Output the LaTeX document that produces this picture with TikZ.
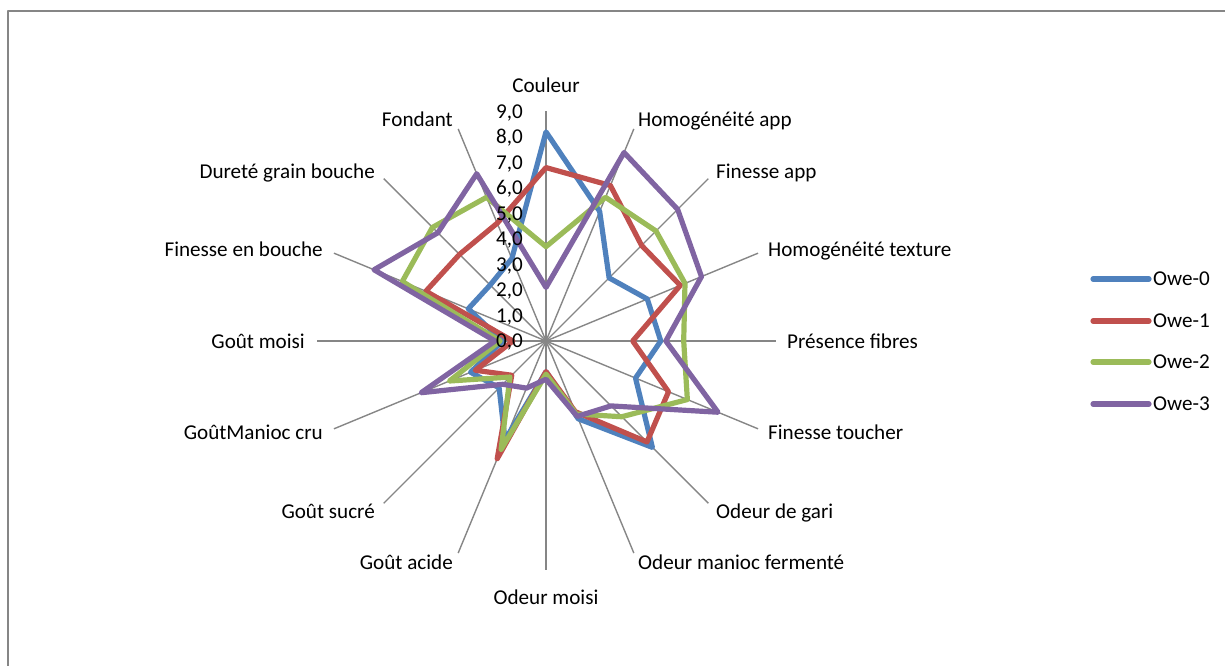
\documentclass[tikz,border=0pt]{standalone}
\usepackage{fontspec}
\setmainfont{Carlito}
\usepackage{tikz}
\usetikzlibrary{positioning}

\definecolor{owezero}{RGB}{79,129,189}
\definecolor{oweone}{RGB}{192,80,77}
\definecolor{owetwo}{RGB}{155,187,89}
\definecolor{owethree}{RGB}{128,100,162}
\definecolor{axisgray}{RGB}{134,134,134}

\tikzset{
  spoke/.style={draw=axisgray,line width=1.4bp},
  serie/.style={line width=5.2bp,line join=round},
  lbl/.style={inner sep=0pt,text height=14.5bp,text depth=1bp,font=\fontsize{21.2}{25}\selectfont},
}
\newcommand{\radunit}{25.5bp}
\newcommand{\owepoly}[3]{\draw[serie,#1] (90:{#2*\radunit}) \foreach \v [count=\i] in {#3} {-- ({90-22.5*\i}:{\v*\radunit})} -- cycle;}

\begin{document}
\begin{tikzpicture}[>=latex,line join=bevel,]
\useasboundingbox (0bp,0bp) rectangle (1225bp,666bp);
\draw [axisgray,line width=2.2bp] (8bp,-20bp) rectangle (1250bp,655bp);
%%
\begin{scope}[shift={(546bp,325bp)}]
  \coordinate (node_c) at (0bp,0bp);
  \foreach \i in {1,...,15} \draw [spoke] (node_c) -- ++({90-22.5*\i}:{9*\radunit});
  \draw [spoke,line width=2bp] (node_c) -- ++(90:{9*\radunit});
%
  \owepoly{owezero}{8.2}{5.5,3.5,4.3,4.5,3.8,5.9,3.3,1.2,4.2,2.6,3.2,1.7,3.3,3.1,3.5}
  \owepoly{oweone}{6.8}{6.6,5.3,5.7,3.4,5.2,5.6,3.0,1.2,5.0,1.9,3.0,1.3,5.1,4.8,5.0}
  \owepoly{owetwo}{3.7}{6.1,6.1,5.9,5.4,6.0,4.2,3.1,1.3,4.6,2.0,4.1,1.8,6.1,6.3,6.1}
  \owepoly{owethree}{2.1}{8.0,7.3,6.6,4.7,7.3,3.6,3.2,1.5,2.0,2.4,5.3,2.0,7.3,6.0,7.1}
\end{scope}
%
\foreach \t in {0,...,9}
  \node (tick_\t) at (523bp,{325bp+\t*25.5bp}) [lbl,anchor=east] {\t,0};
%
\node (lab_couleur) at (546bp,580bp) [lbl] {Couleur};
\node (lab_homapp) at (638bp,546bp) [lbl,anchor=west] {Homogénéité app};
\node (lab_finapp) at (716bp,494bp) [lbl,anchor=west] {Finesse app};
\node (lab_homtex) at (768bp,416bp) [lbl,anchor=west] {Homogénéité texture};
\node (lab_fibres) at (787bp,324bp) [lbl,anchor=west] {Présence fibres};
\node (lab_fintou) at (768bp,233bp) [lbl,anchor=west] {Finesse toucher};
\node (lab_gari) at (716bp,154bp) [lbl,anchor=west] {Odeur de gari};
\node (lab_odferm) at (638bp,103bp) [lbl,anchor=west] {Odeur manioc fermenté};
\node (lab_odmoisi) at (546bp,68bp) [lbl] {Odeur moisi};
\node (lab_acide) at (453bp,103bp) [lbl,anchor=east] {Goût acide};
\node (lab_sucre) at (375bp,154bp) [lbl,anchor=east] {Goût sucré};
\node (lab_gmanioc) at (323bp,233bp) [lbl,anchor=east] {GoûtManioc cru};
\node (lab_gmoisi) at (305bp,324bp) [lbl,anchor=east] {Goût moisi};
\node (lab_finbou) at (323bp,416bp) [lbl,anchor=east] {Finesse en bouche};
\node (lab_durete) at (375bp,494bp) [lbl,anchor=east] {Dureté grain bouche};
\node (lab_fondant) at (453bp,546bp) [lbl,anchor=east] {Fondant};
%
\foreach \c/\n/\y in {owezero/0/387,oweone/1/345,owetwo/2/304,owethree/3/262}{
  \coordinate (leg_\n_a) at (1093bp,\y bp);
  \coordinate (leg_\n_b) at (1149bp,\y bp);
  \draw [\c,line width=5.2bp,line cap=round] (leg_\n_a) -- (leg_\n_b);
  \node (leg_\n) [lbl,right=4bp of leg_\n_b] {Owe-\n};
}
%
\end{tikzpicture}
\end{document}
